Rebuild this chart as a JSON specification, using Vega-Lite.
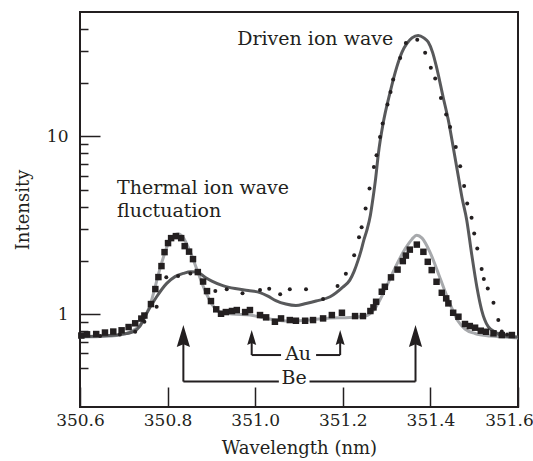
{
  "$schema": "https://vega.github.io/schema/vega-lite/v6.json",
  "width": 438,
  "height": 395,
  "autosize": {"type": "none"},
  "padding": {"left": 80, "top": 12, "right": 15, "bottom": 54},
  "background": "white",
  "config": {
    "view": {"stroke": "#231f20", "strokeWidth": 2},
    "font": "DejaVu Serif",
    "axis": {
      "domain": false, "grid": false,
      "labelFont": "DejaVu Serif", "titleFont": "DejaVu Serif",
      "labelColor": "#231f20", "titleColor": "#231f20", "tickColor": "#231f20",
      "titleFontWeight": "normal", "labelFontSize": 17, "titleFontSize": 18, "tickWidth": 1.5
    }
  },
  "datasets": {
    "thermalFit": [
      {"wavelength": 350.600, "intensity": 0.743},
      {"wavelength": 350.646, "intensity": 0.747},
      {"wavelength": 350.691, "intensity": 0.762},
      {"wavelength": 350.714, "intensity": 0.792},
      {"wavelength": 350.737, "intensity": 0.867},
      {"wavelength": 350.760, "intensity": 1.124},
      {"wavelength": 350.783, "intensity": 1.813},
      {"wavelength": 350.801, "intensity": 2.474},
      {"wavelength": 350.815, "intensity": 2.779},
      {"wavelength": 350.824, "intensity": 2.833},
      {"wavelength": 350.835, "intensity": 2.708},
      {"wavelength": 350.851, "intensity": 2.259},
      {"wavelength": 350.869, "intensity": 1.722},
      {"wavelength": 350.885, "intensity": 1.364},
      {"wavelength": 350.901, "intensity": 1.138},
      {"wavelength": 350.920, "intensity": 1.026},
      {"wavelength": 350.947, "intensity": 1.0},
      {"wavelength": 350.988, "intensity": 0.987},
      {"wavelength": 351.034, "intensity": 0.937},
      {"wavelength": 351.079, "intensity": 0.913},
      {"wavelength": 351.125, "intensity": 0.925},
      {"wavelength": 351.171, "intensity": 0.95},
      {"wavelength": 351.216, "intensity": 0.956},
      {"wavelength": 351.251, "intensity": 0.974},
      {"wavelength": 351.274, "intensity": 1.081},
      {"wavelength": 351.297, "intensity": 1.382},
      {"wavelength": 351.319, "intensity": 1.813},
      {"wavelength": 351.342, "intensity": 2.318},
      {"wavelength": 351.358, "intensity": 2.638},
      {"wavelength": 351.369, "intensity": 2.779},
      {"wavelength": 351.381, "intensity": 2.673},
      {"wavelength": 351.399, "intensity": 2.23},
      {"wavelength": 351.422, "intensity": 1.593},
      {"wavelength": 351.445, "intensity": 1.138},
      {"wavelength": 351.463, "intensity": 0.913},
      {"wavelength": 351.479, "intensity": 0.824},
      {"wavelength": 351.502, "intensity": 0.777},
      {"wavelength": 351.536, "intensity": 0.752},
      {"wavelength": 351.570, "intensity": 0.743},
      {"wavelength": 351.600, "intensity": 0.733}
    ],
    "drivenFit": [
      {"wavelength": 350.600, "intensity": 0.746},
      {"wavelength": 350.646, "intensity": 0.752},
      {"wavelength": 350.691, "intensity": 0.767},
      {"wavelength": 350.721, "intensity": 0.795},
      {"wavelength": 350.737, "intensity": 0.856},
      {"wavelength": 350.752, "intensity": 1.009},
      {"wavelength": 350.775, "intensity": 1.251},
      {"wavelength": 350.798, "intensity": 1.487},
      {"wavelength": 350.817, "intensity": 1.624},
      {"wavelength": 350.836, "intensity": 1.693},
      {"wavelength": 350.853, "intensity": 1.729},
      {"wavelength": 350.867, "intensity": 1.722},
      {"wavelength": 350.885, "intensity": 1.614},
      {"wavelength": 350.901, "intensity": 1.532},
      {"wavelength": 350.926, "intensity": 1.446},
      {"wavelength": 350.954, "intensity": 1.391},
      {"wavelength": 350.984, "intensity": 1.356},
      {"wavelength": 351.011, "intensity": 1.321},
      {"wavelength": 351.029, "intensity": 1.262},
      {"wavelength": 351.047, "intensity": 1.191},
      {"wavelength": 351.070, "intensity": 1.138},
      {"wavelength": 351.093, "intensity": 1.116},
      {"wavelength": 351.116, "intensity": 1.146},
      {"wavelength": 351.139, "intensity": 1.183},
      {"wavelength": 351.171, "intensity": 1.251},
      {"wavelength": 351.200, "intensity": 1.418},
      {"wavelength": 351.216, "intensity": 1.552},
      {"wavelength": 351.226, "intensity": 1.744},
      {"wavelength": 351.235, "intensity": 2.011},
      {"wavelength": 351.242, "intensity": 2.288},
      {"wavelength": 351.248, "intensity": 2.605},
      {"wavelength": 351.255, "intensity": 2.964},
      {"wavelength": 351.263, "intensity": 3.6},
      {"wavelength": 351.269, "intensity": 4.5},
      {"wavelength": 351.275, "intensity": 5.8},
      {"wavelength": 351.281, "intensity": 7.9},
      {"wavelength": 351.292, "intensity": 11.79},
      {"wavelength": 351.308, "intensity": 17.67},
      {"wavelength": 351.323, "intensity": 24.41},
      {"wavelength": 351.335, "intensity": 29.65},
      {"wavelength": 351.346, "intensity": 33.17},
      {"wavelength": 351.358, "intensity": 35.76},
      {"wavelength": 351.372, "intensity": 36.93},
      {"wavelength": 351.385, "intensity": 35.76},
      {"wavelength": 351.395, "intensity": 33.87},
      {"wavelength": 351.405, "intensity": 29.65},
      {"wavelength": 351.414, "intensity": 24.5},
      {"wavelength": 351.429, "intensity": 16.63},
      {"wavelength": 351.441, "intensity": 12.3},
      {"wavelength": 351.452, "intensity": 8.71},
      {"wavelength": 351.464, "intensity": 5.906},
      {"wavelength": 351.472, "intensity": 4.543},
      {"wavelength": 351.483, "intensity": 3.374},
      {"wavelength": 351.494, "intensity": 2.193},
      {"wavelength": 351.506, "intensity": 1.424},
      {"wavelength": 351.517, "intensity": 1.053},
      {"wavelength": 351.532, "intensity": 0.849},
      {"wavelength": 351.548, "intensity": 0.792},
      {"wavelength": 351.559, "intensity": 0.762},
      {"wavelength": 351.577, "intensity": 0.747},
      {"wavelength": 351.600, "intensity": 0.743}
    ],
    "drivenData": [
      {"wavelength": 350.646, "intensity": 0.752},
      {"wavelength": 350.691, "intensity": 0.767},
      {"wavelength": 350.726, "intensity": 0.795},
      {"wavelength": 350.747, "intensity": 0.905},
      {"wavelength": 350.775, "intensity": 1.098},
      {"wavelength": 350.797, "intensity": 1.608},
      {"wavelength": 350.824, "intensity": 1.635},
      {"wavelength": 350.852, "intensity": 1.693},
      {"wavelength": 350.909, "intensity": 1.346},
      {"wavelength": 350.935, "intensity": 1.377},
      {"wavelength": 350.971, "intensity": 1.307},
      {"wavelength": 351.011, "intensity": 1.364},
      {"wavelength": 351.032, "intensity": 1.386},
      {"wavelength": 351.057, "intensity": 1.292},
      {"wavelength": 351.079, "intensity": 1.377},
      {"wavelength": 351.116, "intensity": 1.377},
      {"wavelength": 351.155, "intensity": 1.214},
      {"wavelength": 351.188, "intensity": 1.437},
      {"wavelength": 351.207, "intensity": 1.684},
      {"wavelength": 351.226, "intensity": 2.139},
      {"wavelength": 351.237, "intensity": 2.708},
      {"wavelength": 351.243, "intensity": 3.082},
      {"wavelength": 351.252, "intensity": 3.924},
      {"wavelength": 351.261, "intensity": 5.085},
      {"wavelength": 351.271, "intensity": 6.722},
      {"wavelength": 351.277, "intensity": 7.822},
      {"wavelength": 351.285, "intensity": 9.91},
      {"wavelength": 351.291, "intensity": 11.79},
      {"wavelength": 351.302, "intensity": 15.07},
      {"wavelength": 351.309, "intensity": 17.74},
      {"wavelength": 351.315, "intensity": 20.83},
      {"wavelength": 351.331, "intensity": 27.54},
      {"wavelength": 351.344, "intensity": 33.43},
      {"wavelength": 351.370, "intensity": 34.94},
      {"wavelength": 351.388, "intensity": 29.53},
      {"wavelength": 351.401, "intensity": 24.32},
      {"wavelength": 351.411, "intensity": 21.1},
      {"wavelength": 351.424, "intensity": 16.42},
      {"wavelength": 351.436, "intensity": 13.24},
      {"wavelength": 351.445, "intensity": 11.28},
      {"wavelength": 351.458, "intensity": 8.71},
      {"wavelength": 351.468, "intensity": 6.785},
      {"wavelength": 351.477, "intensity": 5.259},
      {"wavelength": 351.484, "intensity": 4.187},
      {"wavelength": 351.494, "intensity": 3.475},
      {"wavelength": 351.500, "intensity": 2.841},
      {"wavelength": 351.507, "intensity": 2.339},
      {"wavelength": 351.517, "intensity": 1.79},
      {"wavelength": 351.522, "intensity": 1.573},
      {"wavelength": 351.531, "intensity": 1.394},
      {"wavelength": 351.544, "intensity": 1.157},
      {"wavelength": 351.555, "intensity": 0.925},
      {"wavelength": 351.563, "intensity": 0.797},
      {"wavelength": 351.575, "intensity": 0.767}
    ],
    "thermalData": [
      {"wavelength": 350.603, "intensity": 0.757},
      {"wavelength": 350.616, "intensity": 0.769},
      {"wavelength": 350.637, "intensity": 0.772},
      {"wavelength": 350.657, "intensity": 0.787},
      {"wavelength": 350.676, "intensity": 0.797},
      {"wavelength": 350.695, "intensity": 0.81},
      {"wavelength": 350.711, "intensity": 0.845},
      {"wavelength": 350.726, "intensity": 0.887},
      {"wavelength": 350.740, "intensity": 0.943},
      {"wavelength": 350.747, "intensity": 0.981},
      {"wavelength": 350.762, "intensity": 1.138},
      {"wavelength": 350.772, "intensity": 1.382},
      {"wavelength": 350.779, "intensity": 1.614},
      {"wavelength": 350.786, "intensity": 1.861},
      {"wavelength": 350.793, "intensity": 2.23},
      {"wavelength": 350.801, "intensity": 2.506},
      {"wavelength": 350.808, "intensity": 2.673},
      {"wavelength": 350.819, "intensity": 2.743},
      {"wavelength": 350.831, "intensity": 2.673},
      {"wavelength": 350.839, "intensity": 2.41},
      {"wavelength": 350.849, "intensity": 2.244},
      {"wavelength": 350.858, "intensity": 2.037},
      {"wavelength": 350.869, "intensity": 1.722},
      {"wavelength": 350.881, "intensity": 1.523},
      {"wavelength": 350.890, "intensity": 1.346},
      {"wavelength": 350.899, "intensity": 1.183},
      {"wavelength": 350.911, "intensity": 1.063},
      {"wavelength": 350.922, "intensity": 1.004},
      {"wavelength": 350.933, "intensity": 1.026},
      {"wavelength": 350.947, "intensity": 1.04},
      {"wavelength": 350.958, "intensity": 1.053},
      {"wavelength": 350.977, "intensity": 1.026},
      {"wavelength": 350.988, "intensity": 1.053},
      {"wavelength": 351.011, "intensity": 0.987},
      {"wavelength": 351.025, "intensity": 0.958},
      {"wavelength": 351.045, "intensity": 0.905},
      {"wavelength": 351.059, "intensity": 0.945},
      {"wavelength": 351.079, "intensity": 0.925},
      {"wavelength": 351.093, "intensity": 0.917},
      {"wavelength": 351.114, "intensity": 0.917},
      {"wavelength": 351.132, "intensity": 0.925},
      {"wavelength": 351.155, "intensity": 0.945},
      {"wavelength": 351.175, "intensity": 0.987},
      {"wavelength": 351.198, "intensity": 1.017},
      {"wavelength": 351.228, "intensity": 0.974},
      {"wavelength": 351.246, "intensity": 0.974},
      {"wavelength": 351.263, "intensity": 1.04},
      {"wavelength": 351.270, "intensity": 1.09},
      {"wavelength": 351.276, "intensity": 1.172},
      {"wavelength": 351.289, "intensity": 1.335},
      {"wavelength": 351.296, "intensity": 1.424},
      {"wavelength": 351.310, "intensity": 1.608},
      {"wavelength": 351.325, "intensity": 1.778},
      {"wavelength": 351.337, "intensity": 1.985},
      {"wavelength": 351.344, "intensity": 2.132},
      {"wavelength": 351.353, "intensity": 2.303},
      {"wavelength": 351.369, "intensity": 2.458},
      {"wavelength": 351.384, "intensity": 2.239},
      {"wavelength": 351.394, "intensity": 1.967},
      {"wavelength": 351.403, "intensity": 1.767},
      {"wavelength": 351.414, "intensity": 1.519},
      {"wavelength": 351.426, "intensity": 1.317},
      {"wavelength": 351.436, "intensity": 1.225},
      {"wavelength": 351.441, "intensity": 1.148},
      {"wavelength": 351.452, "intensity": 1.017},
      {"wavelength": 351.464, "intensity": 0.966},
      {"wavelength": 351.479, "intensity": 0.879},
      {"wavelength": 351.490, "intensity": 0.856},
      {"wavelength": 351.502, "intensity": 0.838},
      {"wavelength": 351.515, "intensity": 0.806},
      {"wavelength": 351.527, "intensity": 0.795},
      {"wavelength": 351.544, "intensity": 0.779},
      {"wavelength": 351.563, "intensity": 0.762},
      {"wavelength": 351.586, "intensity": 0.762}
    ],
    "brackets": [
      {"x": 350.836, "x2": 350.836, "y": 0.417, "y2": 0.72},
      {"x": 351.366, "x2": 351.366, "y": 0.417, "y2": 0.72},
      {"x": 350.836, "x2": 351.054, "y": 0.417, "y2": 0.417},
      {"x": 351.124, "x2": 351.366, "y": 0.417, "y2": 0.417},
      {"x": 350.992, "x2": 350.992, "y": 0.588, "y2": 0.72},
      {"x": 351.194, "x2": 351.194, "y": 0.588, "y2": 0.72},
      {"x": 350.992, "x2": 351.059, "y": 0.588, "y2": 0.588},
      {"x": 351.139, "x2": 351.194, "y": 0.588, "y2": 0.588}
    ],
    "bigHeads": [
      {"x": 350.836, "y": 0.752},
      {"x": 351.366, "y": 0.752}
    ],
    "smallHeads": [
      {"x": 350.992, "y": 0.738},
      {"x": 351.194, "y": 0.738}
    ],
    "centerLabels": [
      {"x": 351.137, "y": 32.4, "text": "Driven ion wave"},
      {"x": 351.098, "y": 0.5516, "text": "Au"},
      {"x": 351.089, "y": 0.404, "text": "Be"}
    ],
    "leftLabels": [
      {"x": 350.6845, "y": 4.72, "text": "Thermal ion wave"},
      {"x": 350.6845, "y": 3.51, "text": "fluctuation"}
    ]
  },
  "resolve": {"axis": {"x": "independent", "y": "independent"}},
  "layer": [
    {
      "data": {"name": "thermalFit"},
      "mark": {"type": "line", "color": "#a7a9ac", "strokeWidth": 3, "interpolate": "monotone"},
      "encoding": {
        "x": {"field": "wavelength", "type": "quantitative", "scale": {"domain": [350.6, 351.6], "nice": false, "zero": false},
              "axis": {"orient": "bottom", "values": [350.6, 350.8, 351.0, 351.2, 351.4, 351.6], "format": ".1f", "tickSize": -20, "labelPadding": 25, "labelFlush": false,
                       "labelOffset": {"condition": {"test": "datum.value > 351.5", "value": -9}, "value": 0},
                       "title": "Wavelength (nm)", "titlePadding": 11}},
        "y": {"field": "intensity", "type": "quantitative", "scale": {"type": "log", "domain": [0.3, 50], "nice": false},
              "axis": {"orient": "left", "values": [0.5, 0.6, 0.7, 0.8, 0.9, 2, 3, 4, 5, 6, 7, 8, 9, 20, 30, 40], "tickSize": -8, "labels": false, "title": null}}
      }
    },
    {
      "data": {"name": "drivenFit"},
      "mark": {"type": "line", "color": "#58595b", "strokeWidth": 3, "interpolate": "monotone"},
      "encoding": {
        "x": {"field": "wavelength", "type": "quantitative", "axis": null},
        "y": {"field": "intensity", "type": "quantitative", "axis": null}
      }
    },
    {
      "data": {"name": "drivenData"},
      "mark": {"type": "point", "shape": "circle", "filled": true, "color": "#231f20", "size": 16, "opacity": 1},
      "encoding": {
        "x": {"field": "wavelength", "type": "quantitative", "axis": null},
        "y": {"field": "intensity", "type": "quantitative", "axis": null}
      }
    },
    {
      "data": {"name": "thermalData"},
      "mark": {"type": "point", "shape": "square", "filled": true, "color": "#231f20", "size": 42, "opacity": 1},
      "encoding": {
        "x": {"field": "wavelength", "type": "quantitative", "axis": null},
        "y": {"field": "intensity", "type": "quantitative",
              "axis": {"orient": "left", "values": [1, 10], "format": "~g", "tickSize": -20, "labelPadding": 32, "title": "Intensity", "titlePadding": 14}}
      }
    },
    {
      "data": {"name": "brackets"},
      "mark": {"type": "rule", "color": "#231f20", "strokeWidth": 2},
      "encoding": {
        "x": {"field": "x", "type": "quantitative", "axis": null},
        "x2": {"field": "x2"},
        "y": {"field": "y", "type": "quantitative", "axis": null},
        "y2": {"field": "y2"}
      }
    },
    {
      "data": {"name": "bigHeads"},
      "mark": {"type": "point", "shape": "M0,-1L0.6,1L0,0.75L-0.6,1Z", "filled": true, "color": "#231f20", "size": 484, "opacity": 1},
      "encoding": {
        "x": {"field": "x", "type": "quantitative", "axis": null},
        "y": {"field": "y", "type": "quantitative", "axis": null}
      }
    },
    {
      "data": {"name": "smallHeads"},
      "mark": {"type": "point", "shape": "M0,-1L0.6,1L0,0.75L-0.6,1Z", "filled": true, "color": "#231f20", "size": 225, "opacity": 1},
      "encoding": {
        "x": {"field": "x", "type": "quantitative", "axis": null},
        "y": {"field": "y", "type": "quantitative", "axis": null}
      }
    },
    {
      "data": {"name": "centerLabels"},
      "mark": {"type": "text", "font": "DejaVu Serif", "fontSize": 19, "color": "#231f20", "align": "center", "baseline": "alphabetic"},
      "encoding": {
        "x": {"field": "x", "type": "quantitative", "axis": null},
        "y": {"field": "y", "type": "quantitative", "axis": null},
        "text": {"field": "text"}
      }
    },
    {
      "data": {"name": "leftLabels"},
      "mark": {"type": "text", "font": "DejaVu Serif", "fontSize": 19, "color": "#231f20", "align": "left", "baseline": "alphabetic"},
      "encoding": {
        "x": {"field": "x", "type": "quantitative", "axis": null},
        "y": {"field": "y", "type": "quantitative", "axis": null},
        "text": {"field": "text"}
      }
    }
  ]
}
